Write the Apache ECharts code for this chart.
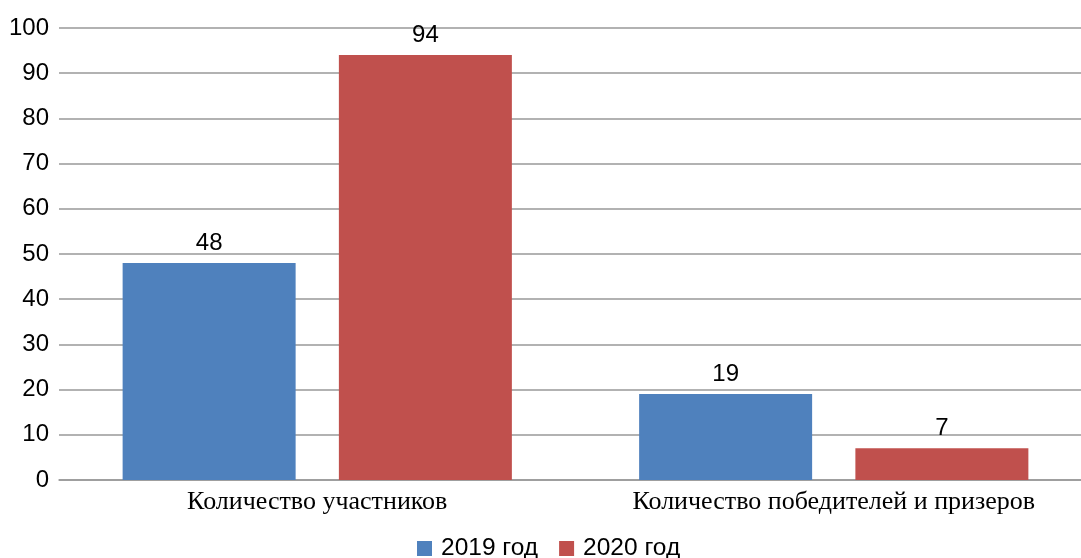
<!DOCTYPE html>
<html><head><meta charset="utf-8">
<script src="https://cdn.jsdelivr.net/npm/echarts@6/dist/echarts.min.js"></script>
<style>html,body{margin:0;padding:0;background:#fff;overflow:hidden;width:1081px;height:558px}#c{width:1092px;height:558px}</style>
</head><body><div id="c"></div>
<script>
const categories = ['Количество участников', 'Количество победителей и призеров'];
const seriesNames = ['2019 год', '2020 год'];
const values2019 = [48, 19];
const values2020 = [94, 7];
const colors = ['#4f81bd', '#c0504d'];

const chart = echarts.init(document.getElementById('c'), null, {renderer: 'canvas'});
const sansFont = '"Liberation Sans", Arial, sans-serif';
const serifFont = '"Liberation Serif", "Times New Roman", serif';
chart.setOption({
  animation: false,
  color: colors,
  grid: {left: 59, right: 0, top: 28, height: 452, containLabel: false},
  legend: {
    top: 531, left: 412, itemWidth: 15, itemHeight: 15, itemGap: 21,
    icon: 'rect',
    textStyle: {fontFamily: sansFont, fontSize: 24.5, color: '#000', padding: [0, 0, 0, 4]},
    data: seriesNames
  },
  xAxis: {
    type: 'category', data: categories,
    axisLine: {lineStyle: {color: '#999', width: 1.5}},
    axisTick: {show: false},
    axisLabel: {interval: 0, hideOverlap: false, fontFamily: serifFont, fontSize: 26, color: '#000', margin: 9}
  },
  yAxis: {
    type: 'value', min: 0, max: 100, interval: 10,
    axisLine: {show: false}, axisTick: {show: false},
    splitLine: {lineStyle: {color: '#999', width: 1.5}},
    axisLabel: {fontFamily: sansFont, fontSize: 24, color: '#000', margin: 10}
  },
  series: [
    {name: seriesNames[0], type: 'bar', data: values2019, barWidth: 173, barGap: '25%',
     label: {show: true, position: 'top', distance: 8, fontFamily: sansFont, fontSize: 24, color: '#000'}},
    {name: seriesNames[1], type: 'bar', data: values2020, barWidth: 173,
     label: {show: true, position: 'top', distance: 8, fontFamily: sansFont, fontSize: 24, color: '#000'}}
  ]
});
</script></body></html>
